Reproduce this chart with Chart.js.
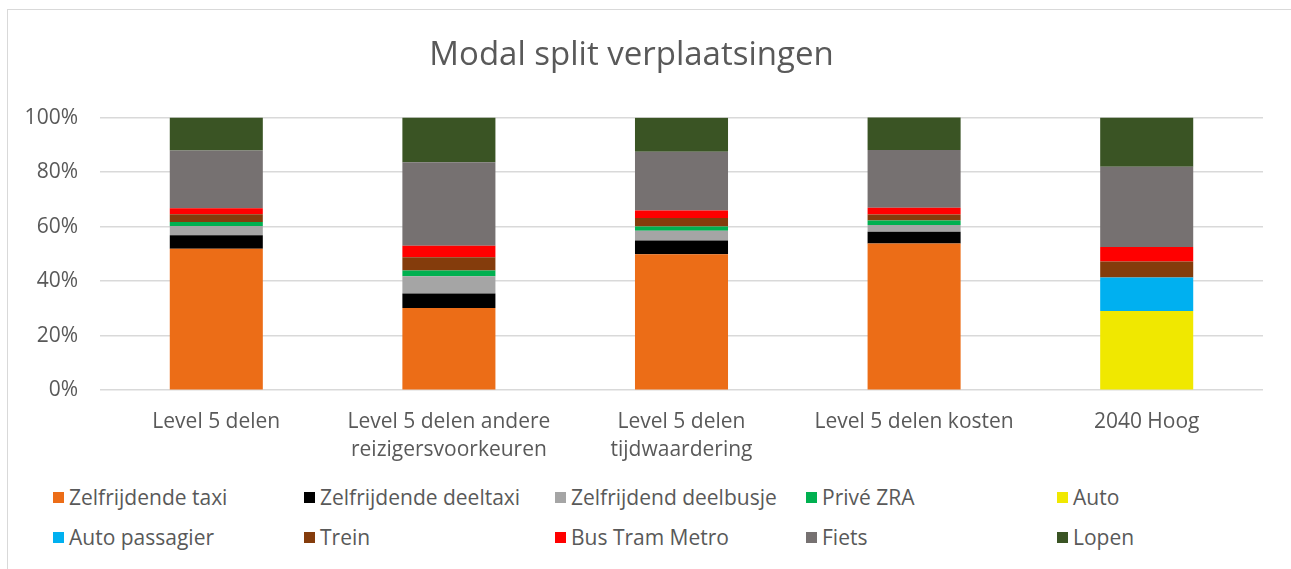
<!DOCTYPE html>
<html>
<head>
<meta charset="utf-8">
<script src="https://cdn.jsdelivr.net/npm/chart.js@4"></script>
<style>
  body { margin: 0; background: #fff; font-family: "Open Sans", sans-serif; }
  .frame { position: absolute; left: 7px; top: 9px; width: 1400px; height: 700px; border: 1px solid #d9d9d9; }
  .wrap { position: absolute; left: 0; top: 0; width: 1291px; height: 474px; }
  .legend { position: absolute; left: 53px; top: 483px; width: 1260px; }
  .legend .item { position: absolute; display: flex; align-items: center; color: #595959; font-size: 21px; white-space: nowrap; }
  .legend .box { width: 11px; height: 11px; margin-right: 5px; }
</style>
</head>
<body>
<div class="frame"></div>
<div class="wrap"><canvas id="chart"></canvas></div>
<div class="legend" id="legend"></div>
<script>
// Categories (x axis)
const categories = [
    ["Level 5 delen"],
    ["Level 5 delen andere", "reizigersvoorkeuren"],
    ["Level 5 delen", "tijdwaardering"],
    ["Level 5 delen kosten"],
    ["2040 Hoog"]
];

// Shares per mode, in percent
const zelfrijdendeTaxi     = [51.9, 30.1, 49.9, 53.8, 0];
const zelfrijdendeDeeltaxi = [4.9, 5.4, 5.0, 4.3, 0];
const zelfrijdendDeelbusje = [3.4, 6.3, 3.6, 2.5, 0];
const priveZRA             = [1.5, 2.1, 1.5, 1.6, 0];
const auto                 = [0, 0, 0, 0, 29.0];
const autoPassagier        = [0, 0, 0, 0, 12.3];
const trein                = [2.8, 4.9, 3.2, 2.2, 5.9];
const busTramMetro         = [2.2, 4.2, 2.7, 2.5, 5.3];
const fiets                = [21.2, 30.6, 21.6, 21.2, 29.5];
const lopen                = [12.1, 16.4, 12.4, 12.1, 18.0];

const seriesNames = ["Zelfrijdende taxi", "Zelfrijdende deeltaxi", "Zelfrijdend deelbusje", "Privé ZRA",
    "Auto", "Auto passagier", "Trein", "Bus Tram Metro", "Fiets", "Lopen"];
const seriesData = [zelfrijdendeTaxi, zelfrijdendeDeeltaxi, zelfrijdendDeelbusje, priveZRA,
    auto, autoPassagier, trein, busTramMetro, fiets, lopen];
const seriesColors = ["#EC6D17", "#000000", "#A5A5A5", "#00B050", "#F0E800",
    "#00B0F0", "#843C0C", "#FF0000", "#767171", "#3A5424"];

const yTicks = [0, 20, 40, 60, 80, 100];

const textColor = "#595959";
const fontFamily = "'Open Sans', sans-serif";

let datasets = [];
for (let i = 0; i < seriesNames.length; i++) {
    datasets.push({
        label: seriesNames[i],
        data: seriesData[i],
        backgroundColor: seriesColors[i],
        borderWidth: 0,
        barPercentage: 0.4,
        categoryPercentage: 1.0
    });
}

new Chart(document.getElementById("chart"), {
    type: "bar",
    data: { labels: categories, datasets: datasets },
    options: {
        responsive: true,
        maintainAspectRatio: false,
        animation: false,
        layout: { padding: { left: 0, right: 28, top: 0, bottom: 0 } },
        plugins: {
            legend: { display: false },
            tooltip: { enabled: false },
            title: {
                display: true,
                text: "Modal split verplaatsingen",
                color: textColor,
                font: { family: fontFamily, size: 33, weight: "normal" },
                padding: { top: 36, bottom: 42 }
            }
        },
        scales: {
            x: {
                stacked: true,
                grid: { display: false },
                border: { display: false },
                ticks: {
                    color: textColor,
                    font: { family: fontFamily, size: 21, lineHeight: 1.33 },
                    padding: 10,
                    maxRotation: 0,
                    autoSkip: false
                }
            },
            y: {
                stacked: true,
                min: 0,
                max: 100,
                afterFit: function (axis) { axis.width = 100; },
                afterBuildTicks: function (axis) {
                    axis.ticks = yTicks.map(function (v) { return { value: v }; });
                },
                grid: { color: "#d9d9d9", lineWidth: 1.5, drawTicks: false },
                border: { display: false },
                ticks: {
                    color: textColor,
                    font: { family: fontFamily, size: 21 },
                    padding: 22,
                    callback: function (v) { return v + "%"; }
                }
            }
        }
    }
});

// Legend in the grid layout of the original (5 columns, 2 rows)
let legend = document.getElementById("legend");
for (let i = 0; i < seriesNames.length; i++) {
    let item = document.createElement("div");
    item.className = "item";
    item.style.left = (i % 5) * 251 + "px";
    item.style.top = Math.floor(i / 5) * 40 + "px";
    let box = document.createElement("span");
    box.className = "box";
    box.style.background = seriesColors[i];
    item.appendChild(box);
    item.appendChild(document.createTextNode(seriesNames[i]));
    legend.appendChild(item);
}
</script>
</body>
</html>
